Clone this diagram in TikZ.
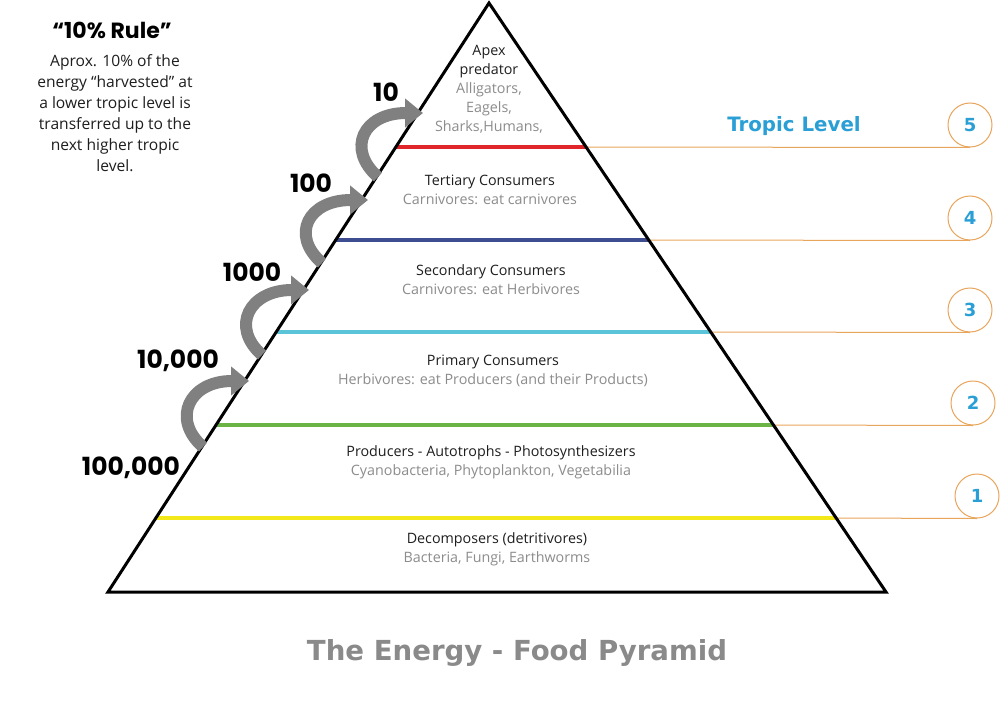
\documentclass[tikz,border=0pt]{standalone}
\usepackage{fontspec}
\setmainfont{Open Sans}
\newfontfamily\numfont{Poppins}
\newfontfamily\headfont{DejaVu Sans}
\usetikzlibrary{arrows.meta,calc}
\definecolor{txtgray}{HTML}{8C8C8C}
\definecolor{txtblack}{HTML}{1E1E1E}
\definecolor{arrgray}{HTML}{808080}
\definecolor{lvlred}{HTML}{E0262A}
\definecolor{lvlblue}{HTML}{3D4D8F}
\definecolor{lvlcyan}{HTML}{5BC4D9}
\definecolor{lvlgreen}{HTML}{6AB344}
\definecolor{lvlyellow}{HTML}{F3E81A}
\definecolor{lvlorange}{HTML}{E8A55C}
\definecolor{lvltext}{HTML}{2A9FD6}
\definecolor{titlegray}{HTML}{8A8A8A}
\tikzset{
  tiertext/.style={align=center, text=txtblack, font=\fontsize{14.3}{19}\selectfont, inner sep=0pt},
  sidetext/.style={align=center, text=txtblack, font=\fontsize{15.6}{21}\selectfont, inner sep=0pt},
  numlabel/.style={text=black, font=\numfont\bfseries\fontsize{25}{27}\selectfont, inner sep=0pt},
  lvlcircle/.style={circle, draw=lvlorange, line width=1pt, minimum size=44pt, inner sep=0pt, text=lvltext, font=\headfont\bfseries\fontsize{18}{20}\selectfont},
  orangeline/.style={draw=lvlorange, line width=1pt},
  levelline/.style={line width=4pt},
  arrowband/.style={draw=arrgray, line width=12pt, -{Triangle[length=18pt,width=28pt]}},
}
\begin{document}
\begin{tikzpicture}[x=1pt,y=-1pt]
\useasboundingbox (0,0) rectangle (1000,722);
\fill[white] (0,0) rectangle (1000,722);

% pyramid corners
\coordinate (apex) at (489,3);
\coordinate (bl) at (108,592);
\coordinate (br) at (886,592);

% level line end points
\foreach \n/\t in {5/0.2445,4/0.4024,3/0.5586,2/0.7165,1/0.8744}{
  \coordinate (l\n) at ($(apex)!\t!(bl)$);
  \coordinate (r\n) at ($(apex)!\t!(br)$);
}

% coloured level lines
\draw[levelline, lvlred] (l5) -- (r5);
\draw[levelline, lvlblue] (l4) -- (r4);
\draw[levelline, lvlcyan] (l3) -- (r3);
\draw[levelline, lvlgreen] (l2) -- (r2);
\draw[levelline, lvlyellow] (l1) -- (r1);

% level circles
\node[lvlcircle] (c5) at (970,125) {5};
\node[lvlcircle] (c4) at (970,218) {4};
\node[lvlcircle] (c3) at (970,310) {3};
\node[lvlcircle] (c2) at (973,403) {2};
\node[lvlcircle] (c1) at (977,496) {1};
\draw[orangeline] (r5) -- (c5.south);
\draw[orangeline] (r4) -- (c4.south);
\draw[orangeline] (r3) -- (c3.south);
\draw[orangeline] (r2) -- (c2.south);
\draw[orangeline] (r1) -- (c1.south);

% pyramid outline
\draw[line width=3pt, line join=miter] (apex) -- (br) -- (bl) -- cycle;

% energy arrows
\coordinate (t1) at (203,447); \coordinate (h1) at (249,381);
\coordinate (t2) at (262,355); \coordinate (h2) at (309,290);
\coordinate (t3) at (322,263); \coordinate (h3) at (368,200);
\coordinate (t4) at (378,177); \coordinate (h4) at (423,113);
\foreach \i in {1,2,3,4}{
  \draw[arrowband] (t\i) .. controls +(-32,-28) and +(-60,0) .. (h\i);
}

% numbers
\node[numlabel] (n10) at (386,92) {10};
\node[numlabel] (n100) at (311,183) {100};
\node[numlabel] (n1000) at (252,272) {1000};
\node[numlabel] (n10000) at (178,361) {10,000};
\node[numlabel] (n100000) at (131,468) {100,000};

% tier texts
\node[tiertext] (tapex) at (489,89) {Apex\\predator\\\textcolor{txtgray}{Alligators,}\\\textcolor{txtgray}{Eagels,}\\\textcolor{txtgray}{Sharks,Humans,}};
\node[tiertext] (ttert) at (490,190) {Tertiary Consumers\\\textcolor{txtgray}{Carnivores: eat carnivores}};
\node[tiertext] (tsec) at (491,280) {Secondary Consumers\\\textcolor{txtgray}{Carnivores: eat Herbivores}};
\node[tiertext] (tprim) at (493,371) {Primary Consumers\\\textcolor{txtgray}{Herbivores: eat Producers (and their Products)}};
\node[tiertext] (tprod) at (491,462) {Producers - Autotrophs - Photosynthesizers\\\textcolor{txtgray}{Cyanobacteria, Phytoplankton, Vegetabilia}};
\node[tiertext] (tdec) at (497,549) {Decomposers (detritivores)\\\textcolor{txtgray}{Bacteria, Fungi, Earthworms}};

% left rule text
\node[text=black, font=\numfont\bfseries\fontsize{22}{24}\selectfont, inner sep=0pt] (rule) at (112,30) {“10\% Rule”};
\node[sidetext] (ruletext) at (115,113) {Aprox. 10\% of the\\energy “harvested” at\\a lower tropic level is\\transferred up to the\\next higher tropic\\level.};

% tropic level label
\node[text=lvltext, font=\headfont\bfseries\fontsize{19.8}{22}\selectfont, inner sep=0pt] (tropic) at (794,126) {Tropic Level};

% title
\node[text=titlegray, font=\headfont\bfseries\fontsize{27.6}{30}\selectfont, inner sep=0pt] (title) at (517,653) {The Energy - Food Pyramid};
\end{tikzpicture}
\end{document}
